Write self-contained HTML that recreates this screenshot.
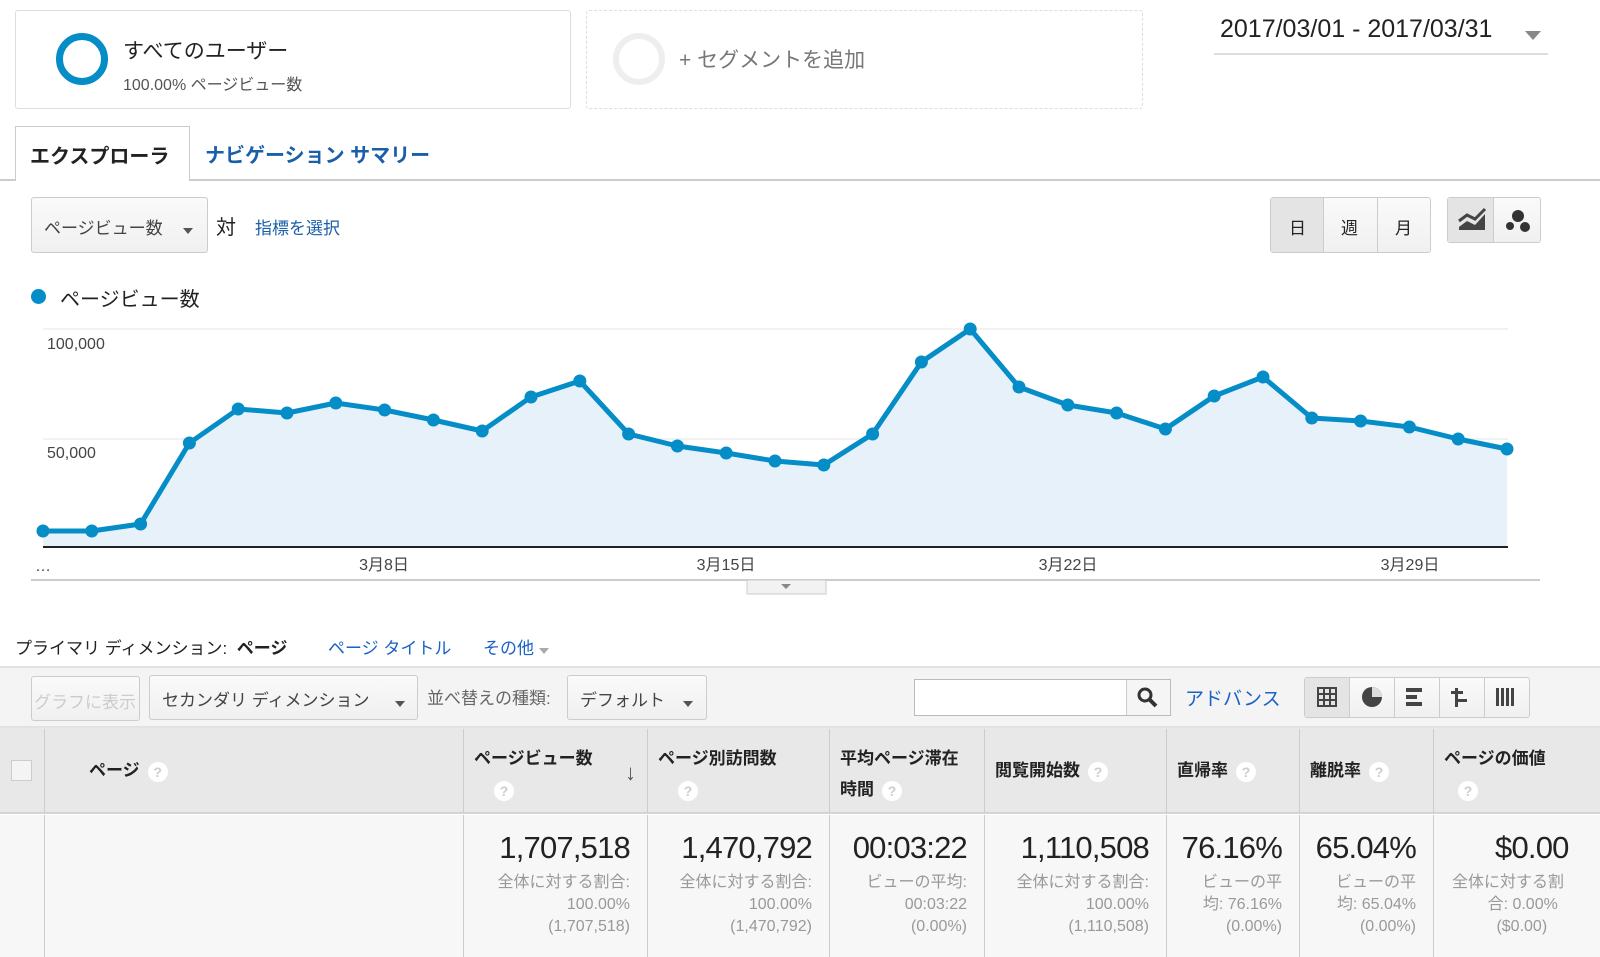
<!DOCTYPE html>
<html><head><meta charset="utf-8"><style>
*{box-sizing:border-box;margin:0;padding:0}
body{width:1600px;height:957px;overflow:hidden;background:#fff;font-family:"Liberation Sans","Noto Sans CJK JP",sans-serif;color:#222;position:relative}
.a{position:absolute;white-space:nowrap}
.btn{position:absolute;border:1px solid #ccc;border-radius:3px;background:linear-gradient(#fafafa,#f0f0f0)}
.tri{display:inline-block;width:0;height:0;border-left:5px solid transparent;border-right:5px solid transparent;border-top:6px solid #555}
.q{display:inline-block;width:20px;height:20px;border-radius:50%;background:#fff;color:#ccc;font-size:14px;text-align:center;line-height:20px;vertical-align:middle;margin-left:8px}
.hd{position:absolute;top:729px;height:84px;border-left:1px solid #ccc;font-weight:bold;font-size:17px;padding:14px 10px;line-height:31px}
.big{position:absolute;top:830px;font-size:31px;letter-spacing:-0.8px;text-align:right;color:#222}
.sm{position:absolute;top:872px;font-size:16px;color:#999;text-align:right;line-height:22px}
</style></head><body>
<div class="a" style="left:15px;top:10px;width:556px;height:99px;border:1px solid #ddd;border-radius:3px"></div>
<div class="a" style="left:56px;top:33px;width:52px;height:52px;border-radius:50%;border:7px solid #058dc7"></div>
<div class="a" style="left:123px;top:35px;font-size:21px">すべてのユーザー</div>
<div class="a" style="left:123px;top:71px;font-size:16px;color:#555">100.00% ページビュー数</div>
<div class="a" style="left:586px;top:10px;width:557px;height:99px;border:1px dashed #ddd;border-radius:3px"></div>
<div class="a" style="left:613px;top:33px;width:52px;height:52px;border-radius:50%;border:6px solid #eee"></div>
<div class="a" style="left:679px;top:44px;font-size:21px;color:#777">+ セグメントを追加</div>
<div class="a" style="left:1220px;top:15px;font-size:25px;color:#222">2017/03/01 - 2017/03/31</div>
<div class="a" style="left:1525px;top:27px"><span class="tri" style="border-left-width:8px;border-right-width:8px;border-top-width:9px;border-top-color:#888"></span></div>
<div class="a" style="left:1214px;top:53px;width:334px;height:2px;background:#ddd"></div>
<div class="a" style="left:0;top:179px;width:1600px;height:2px;background:#ccc"></div>
<div class="a" style="left:15px;top:126px;width:175px;height:55px;border:1px solid #ccc;border-bottom:none;background:#fff;font-weight:bold;font-size:20px;padding:13px 0 0 14px">エクスプローラ</div>
<div class="a" style="left:205px;top:139px;font-size:20px;font-weight:bold;color:#1a5fa8">ナビゲーション サマリー</div>
<div class="btn" style="left:31px;top:197px;width:177px;height:56px"></div>
<div class="a" style="left:44px;top:214px;font-size:17px;color:#444">ページビュー数</div>
<div class="a" style="left:183px;top:221px"><span class="tri"></span></div>
<div class="a" style="left:216px;top:211px;font-size:20px">対</div>
<div class="a" style="left:255px;top:214px;font-size:17px;color:#1a5fa8">指標を選択</div>
<div class="btn" style="left:1270px;top:197px;width:161px;height:56px"></div>
<div class="a" style="left:1271px;top:198px;width:53px;height:54px;background:#e4e4e4;border-right:1px solid #ccc"></div>
<div class="a" style="left:1377px;top:198px;width:1px;height:54px;background:#ccc"></div>
<div class="a" style="left:1289px;top:214px;font-size:17px">日</div>
<div class="a" style="left:1341px;top:214px;font-size:17px">週</div>
<div class="a" style="left:1395px;top:214px;font-size:17px">月</div>
<div class="btn" style="left:1447px;top:197px;width:94px;height:46px"></div>
<div class="a" style="left:1448px;top:198px;width:46px;height:44px;background:#e4e4e4;border-right:1px solid #ccc"></div>
<svg class="a" style="left:1455px;top:205px" width="80" height="32"><path d="M4 22 L12 16 L20 20 L30 9 L30 25 L4 25Z" fill="#444"/><path d="M4 16 L12 10 L20 14 L30 4" stroke="#444" stroke-width="3" fill="none"/><circle cx="63" cy="11" r="6" fill="#333"/><circle cx="55" cy="21" r="4" fill="#333"/><circle cx="70" cy="22" r="5" fill="#333"/></svg>
<div class="a" style="left:31px;top:289px;width:15px;height:15px;border-radius:50%;background:#058dc7"></div>
<div class="a" style="left:60px;top:283px;font-size:20px">ページビュー数</div>
<svg class="a" style="left:0;top:0" width="1600" height="600">
<line x1="43" y1="329" x2="1508" y2="329" stroke="#e6e6e6"/>
<line x1="43" y1="439" x2="1508" y2="439" stroke="#e6e6e6"/>
<text x="47" y="349" font-size="16" fill="#444" font-family="Liberation Sans">100,000</text>
<text x="47" y="458" font-size="16" fill="#444" font-family="Liberation Sans">50,000</text>
<polygon fill="#e6f1f9" points="43,547 43,531 91.8,531 140.6,524 189.4,443 238.2,409 287,413 335.8,403 384.6,410 433.4,420 482.2,431 531,397 579.8,381 628.6,434 677.4,446 726.2,453 775,461 823.8,465 872.6,434 921.4,362 970.2,329 1019,387 1067.8,405 1116.6,413 1165.4,429 1214.2,396 1263,377 1311.8,418 1360.6,421 1409.4,427 1458.2,439 1507,449 1507,547"/>
<polyline fill="none" stroke="#058dc7" stroke-width="5" stroke-linejoin="round" points="43,531 91.8,531 140.6,524 189.4,443 238.2,409 287,413 335.8,403 384.6,410 433.4,420 482.2,431 531,397 579.8,381 628.6,434 677.4,446 726.2,453 775,461 823.8,465 872.6,434 921.4,362 970.2,329 1019,387 1067.8,405 1116.6,413 1165.4,429 1214.2,396 1263,377 1311.8,418 1360.6,421 1409.4,427 1458.2,439 1507,449"/>
<g fill="#058dc7">
<circle cx="43" cy="531" r="6.5"/><circle cx="91.8" cy="531" r="6.5"/><circle cx="140.6" cy="524" r="6.5"/><circle cx="189.4" cy="443" r="6.5"/><circle cx="238.2" cy="409" r="6.5"/><circle cx="287" cy="413" r="6.5"/><circle cx="335.8" cy="403" r="6.5"/><circle cx="384.6" cy="410" r="6.5"/><circle cx="433.4" cy="420" r="6.5"/><circle cx="482.2" cy="431" r="6.5"/><circle cx="531" cy="397" r="6.5"/><circle cx="579.8" cy="381" r="6.5"/><circle cx="628.6" cy="434" r="6.5"/><circle cx="677.4" cy="446" r="6.5"/><circle cx="726.2" cy="453" r="6.5"/><circle cx="775" cy="461" r="6.5"/><circle cx="823.8" cy="465" r="6.5"/><circle cx="872.6" cy="434" r="6.5"/><circle cx="921.4" cy="362" r="6.5"/><circle cx="970.2" cy="329" r="6.5"/><circle cx="1019" cy="387" r="6.5"/><circle cx="1067.8" cy="405" r="6.5"/><circle cx="1116.6" cy="413" r="6.5"/><circle cx="1165.4" cy="429" r="6.5"/><circle cx="1214.2" cy="396" r="6.5"/><circle cx="1263" cy="377" r="6.5"/><circle cx="1311.8" cy="418" r="6.5"/><circle cx="1360.6" cy="421" r="6.5"/><circle cx="1409.4" cy="427" r="6.5"/><circle cx="1458.2" cy="439" r="6.5"/><circle cx="1507" cy="449" r="6.5"/>
</g>
<line x1="43" y1="547" x2="1508" y2="547" stroke="#222" stroke-width="2"/>
<g font-size="16" fill="#444" font-family="Liberation Sans, Noto Sans CJK JP" text-anchor="middle">
<text x="43" y="571">…</text><text x="384" y="570">3月8日</text><text x="726" y="570">3月15日</text><text x="1068" y="570">3月22日</text><text x="1410" y="570">3月29日</text></g>
<line x1="31" y1="580" x2="1540" y2="580" stroke="#ccc" stroke-width="2"/>
<rect x="747" y="580" width="79" height="14" fill="#f2f2f2" stroke="#ccc"/>
<path d="M781 584 L791 584 L786 589Z" fill="#888"/>
</svg>
<div class="a" style="left:15px;top:634px;font-size:17px">プライマリ ディメンション:&nbsp; <b>ページ</b></div>
<div class="a" style="left:328px;top:634px;font-size:17px;color:#1a62c6">ページ タイトル</div>
<div class="a" style="left:483px;top:634px;font-size:17px;color:#1a62c6">その他 <span class="tri" style="border-top-color:#aaa"></span></div>
<div class="a" style="left:0;top:666px;width:1600px;height:62px;background:#f4f4f4;border-top:2px solid #e2e2e2;border-bottom:2px solid #e2e2e2"></div>
<div class="btn" style="left:31px;top:676px;width:109px;height:45px;color:#ccc;font-size:17px;padding:11px 0 0 2px">グラフに表示</div>
<div class="btn" style="left:149px;top:675px;width:269px;height:45px;font-size:17px;color:#444;padding:10px 0 0 12px">セカンダリ ディメンション</div>
<div class="a" style="left:395px;top:694px"><span class="tri"></span></div>
<div class="a" style="left:427px;top:684px;font-size:17px;color:#666">並べ替えの種類:</div>
<div class="btn" style="left:567px;top:675px;width:140px;height:45px;font-size:17px;color:#444;padding:10px 0 0 12px">デフォルト</div>
<div class="a" style="left:683px;top:694px"><span class="tri"></span></div>
<div class="a" style="left:914px;top:679px;width:257px;height:37px;border:1px solid #bbb;background:#fff"></div>
<div class="a" style="left:1126px;top:680px;width:44px;height:35px;border-left:1px solid #ccc;background:#f5f5f5"></div>
<svg class="a" style="left:1136px;top:686px" width="24" height="24"><circle cx="9" cy="9" r="6" stroke="#333" stroke-width="3" fill="none"/><line x1="13" y1="13" x2="20" y2="20" stroke="#333" stroke-width="4"/></svg>
<div class="a" style="left:1185px;top:684px;font-size:19px;color:#1a62c6">アドバンス</div>
<div class="btn" style="left:1304px;top:677px;width:226px;height:41px"></div>
<div class="a" style="left:1305px;top:678px;width:44px;height:39px;background:#e4e4e4"></div>
<div class="a" style="left:1349px;top:678px;width:1px;height:39px;background:#ccc"></div>
<div class="a" style="left:1394px;top:678px;width:1px;height:39px;background:#ccc"></div>
<div class="a" style="left:1439px;top:678px;width:1px;height:39px;background:#ccc"></div>
<div class="a" style="left:1484px;top:678px;width:1px;height:39px;background:#ccc"></div>
<svg class="a" style="left:1305px;top:678px" width="225" height="39" fill="#444">
<g stroke="#444" stroke-width="2" fill="none"><rect x="13" y="10" width="18" height="18"/><line x1="19" y1="10" x2="19" y2="28"/><line x1="25" y1="10" x2="25" y2="28"/><line x1="13" y1="16" x2="31" y2="16"/><line x1="13" y1="22" x2="31" y2="22"/></g>
<circle cx="67" cy="19" r="10"/><path d="M67 19 L67 9 A10 10 0 0 1 77 19Z" fill="#ddd"/>
<rect x="101" y="10" width="16" height="4"/><rect x="101" y="17" width="11" height="4"/><rect x="101" y="24" width="16" height="4"/>
<rect x="150" y="10" width="3" height="19"/><rect x="146" y="13" width="12" height="3"/><rect x="150" y="21" width="12" height="3"/>
<rect x="191" y="10" width="3" height="18"/><rect x="196" y="10" width="3" height="18"/><rect x="201" y="10" width="3" height="18"/><rect x="206" y="10" width="3" height="18"/>
</svg>
<div class="a" style="left:0;top:728px;width:1600px;height:86px;background:#e8e8e8;border-bottom:2px solid #d4d4d4"></div>
<div class="a" style="left:11px;top:760px;width:21px;height:21px;border:1px solid #ccc;background:#f4f4f4"></div>
<div class="hd" style="left:44px;width:420px;padding-left:44px;padding-top:26px">ページ<span class="q">?</span></div>
<div class="hd" style="left:463px;width:185px">ページビュー数<br><span class="q" style="margin-left:20px">?</span></div>
<div class="a" style="left:625px;top:760px;font-size:22px;color:#555;font-weight:bold">↓</div>
<div class="hd" style="left:647px;width:183px">ページ別訪問数<br><span class="q" style="margin-left:20px">?</span></div>
<div class="hd" style="left:829px;width:156px">平均ページ滞在<br>時間<span class="q">?</span></div>
<div class="hd" style="left:984px;width:183px;padding-top:26px">閲覧開始数<span class="q">?</span></div>
<div class="hd" style="left:1166px;width:134px;padding-top:26px">直帰率<span class="q">?</span></div>
<div class="hd" style="left:1299px;width:135px;padding-top:26px">離脱率<span class="q">?</span></div>
<div class="hd" style="left:1433px;width:170px">ページの価値<br><span class="q" style="margin-left:14px">?</span></div>
<div class="a" style="left:0;top:815px;width:1600px;height:142px;background:#f7f7f7"></div>
<div class="a" style="left:44px;top:815px;width:1px;height:142px;background:#ccc"></div>
<div class="a" style="left:463px;top:815px;width:1px;height:142px;background:#ccc"></div>
<div class="a" style="left:647px;top:815px;width:1px;height:142px;background:#ccc"></div>
<div class="a" style="left:829px;top:815px;width:1px;height:142px;background:#ccc"></div>
<div class="a" style="left:984px;top:815px;width:1px;height:142px;background:#ccc"></div>
<div class="a" style="left:1166px;top:815px;width:1px;height:142px;background:#ccc"></div>
<div class="a" style="left:1299px;top:815px;width:1px;height:142px;background:#ccc"></div>
<div class="a" style="left:1433px;top:815px;width:1px;height:142px;background:#ccc"></div>
<div class="big" style="right:970px">1,707,518</div>
<div class="sm" style="right:970px">全体に対する割合:<br>100.00%<br>(1,707,518)</div>
<div class="big" style="right:788px">1,470,792</div>
<div class="sm" style="right:788px">全体に対する割合:<br>100.00%<br>(1,470,792)</div>
<div class="big" style="right:633px">00:03:22</div>
<div class="sm" style="right:633px">ビューの平均:<br>00:03:22<br>(0.00%)</div>
<div class="big" style="right:451px">1,110,508</div>
<div class="sm" style="right:451px">全体に対する割合:<br>100.00%<br>(1,110,508)</div>
<div class="big" style="right:318px">76.16%</div>
<div class="sm" style="right:318px">ビューの平<br>均: 76.16%<br>(0.00%)</div>
<div class="big" style="right:184px">65.04%</div>
<div class="sm" style="right:184px">ビューの平<br>均: 65.04%<br>(0.00%)</div>
<div class="big" style="left:1495px">$0.00</div>
<div class="sm" style="left:1452px;text-align:left">全体に対する割<br>&nbsp;&nbsp;&nbsp;&nbsp;&nbsp;&nbsp;&nbsp;&nbsp;合: 0.00%<br>&nbsp;&nbsp;&nbsp;&nbsp;&nbsp;&nbsp;&nbsp;&nbsp;&nbsp;&nbsp;($0.00)</div>
</body></html>
